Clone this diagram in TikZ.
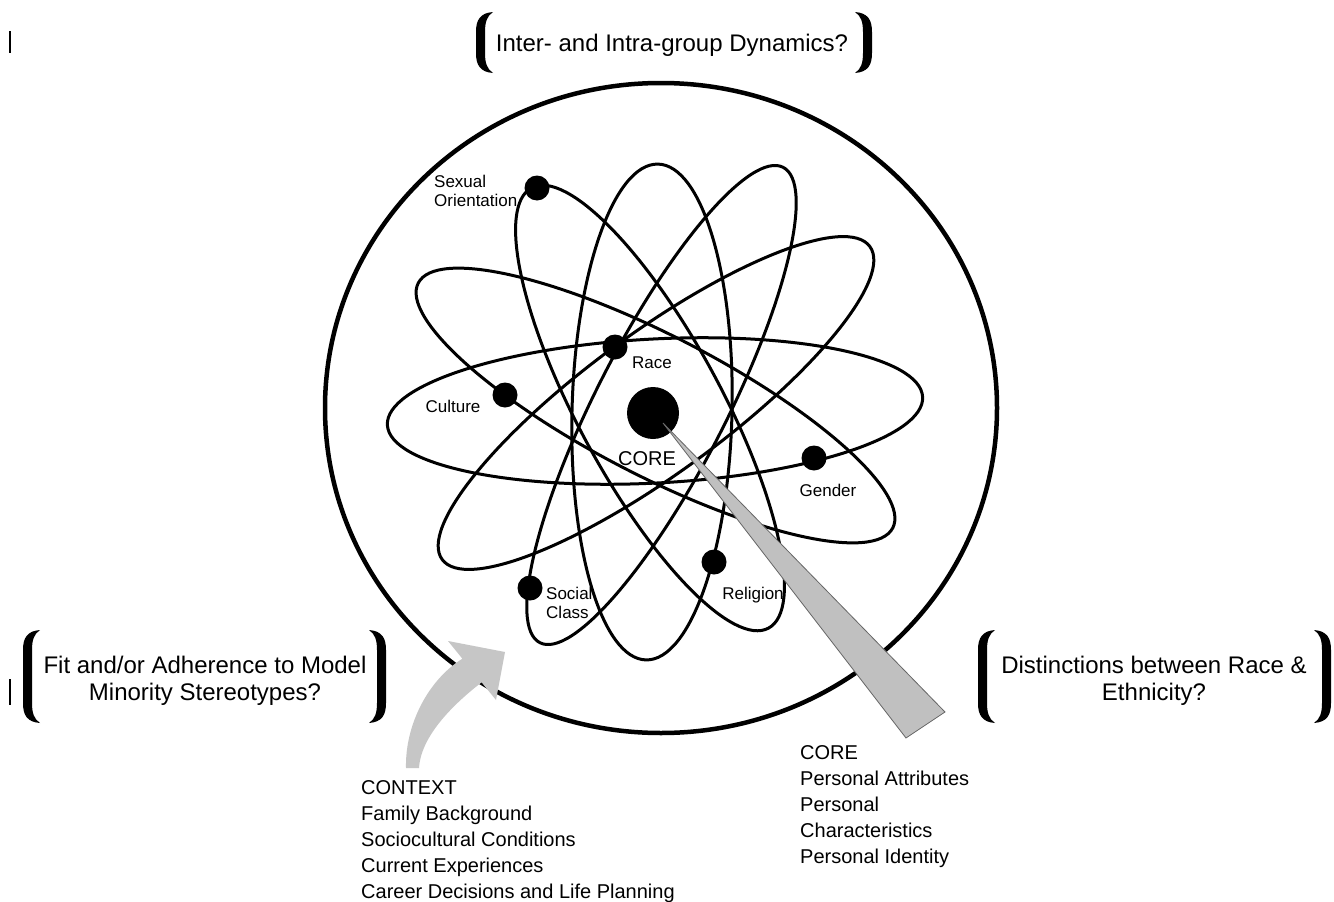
\documentclass[tikz,border=0pt]{standalone}
\usepackage{fontspec}
\setmainfont{Liberation Sans}
\definecolor{wedgegray}{RGB}{192,192,192}
\definecolor{arrowgray}{RGB}{198,198,198}
\tikzset{
  pics/brk/.style={code={
    \fill (17,0) .. controls (4,1) and (0,8) .. (0,20) -- (0,#1-20)
      .. controls (0,#1-8) and (4,#1-1) .. (17,#1)
      .. controls (11,#1-4) and (9,#1-10) .. (9,#1-20) -- (9,20)
      .. controls (9,10) and (11,4) .. (17,0) -- cycle;
  }},
}
\begin{document}
\begin{tikzpicture}[x=1pt,y=-1pt,
  orbit/.style={line width=3pt},
  dotn/.style={circle,fill=black,inner sep=0pt,minimum size=25pt},
  lbl/.style={inner sep=0pt,font=\fontsize{17}{19}\selectfont,anchor=base},
  lblblk/.style={inner sep=0pt,font=\fontsize{17}{19}\selectfont,align=left,anchor=north west},
  qtext/.style={inner sep=0pt,font=\fontsize{24}{27}\selectfont,align=center,anchor=north},
  blk/.style={inner sep=0pt,font=\fontsize{20}{26}\selectfont,align=left,anchor=north west},
]
\useasboundingbox (0,0) rectangle (1334,902);
\fill[white] (0,0) rectangle (1334,902);

% cursor marks
\draw[line width=1.6pt] (10,31) -- (10,53);
\draw[line width=1.6pt] (10,679) -- (10,705);

% outer circle
\draw[line width=4.5pt] (661,408) ellipse [x radius=336, y radius=325];

% orbits
\draw[orbit, rotate around={3:(655,411)}] (655,411) ellipse [x radius=268, y radius=72];
\draw[orbit, rotate around={-27.3:(655.5,405.5)}] (655.5,405.5) ellipse [x radius=267, y radius=70];
\draw[orbit, rotate around={36.2:(656,403)}] (656,403) ellipse [x radius=265, y radius=70];
\draw[orbit, rotate around={-61.7:(650,408)}] (650,408) ellipse [x radius=250, y radius=72];
\draw[orbit, rotate around={62.9:(661.5,405)}] (661.5,405) ellipse [x radius=267, y radius=65];
\draw[orbit, rotate around={88.6:(652,412)}] (652,412) ellipse [x radius=248, y radius=80];

% nucleus and electrons
\node[circle,fill=black,inner sep=0pt,minimum size=52pt] (nucleus) at (653,413) {};
\node[dotn] (dsex) at (537,188) {};
\node[dotn] (drace) at (615,347) {};
\node[dotn] (dcult) at (505,395) {};
\node[dotn] (dgend) at (814,458) {};
\node[dotn] (drel) at (714,562) {};
\node[dotn] (dsoc) at (530,588) {};

% pointer wedge
\filldraw[fill=wedgegray, draw=black!60, line width=0.8pt] (663,423) -- (945,712) -- (906,738) -- cycle;

% curved context arrow
\fill[arrowgray] (505,652) -- (496,700) -- (481.6,682.3)
  .. controls (455,703) and (421,735) .. (419,768) -- (406,768)
  .. controls (405,725) and (428,680) .. (462.4,658.7) -- (448,641) -- cycle;

% atom labels
\node[lblblk] (tsex) at (434,174.5) {Sexual\\Orientation};
\node[lbl] (trace) at (652,368) {Race};
\node[lbl] (tcult) at (453,412) {Culture};
\node[inner sep=0pt,font=\fontsize{20}{24}\selectfont,anchor=base] (tcore) at (647,465) {CORE};
\node[lbl] (tgend) at (828,496) {Gender};
\node[lbl] (trel) at (753,599) {Religion};
\node[lblblk] (tsoc) at (546,586.5) {Social\\Class};

% brackets
\pic at (476,12) {brk=61};
\pic[xscale=-1] at (872,12) {brk=61};
\pic at (23,630) {brk=93};
\pic[xscale=-1] at (386,630) {brk=93};
\pic at (978,630) {brk=93};
\pic[xscale=-1] at (1331,630) {brk=93};

% bracket texts
\node[qtext] (qtop) at (672,33.5) {Inter- and Intra-group Dynamics?};
\node[qtext] (qleft) at (205,656) {Fit and/or Adherence to Model\\Minority Stereotypes?};
\node[qtext] (qright) at (1154,656) {Distinctions between Race \&\\Ethnicity?};

% lower text blocks
\node[blk] (context) at (361,780.8) {CONTEXT\\Family Background\\Sociocultural Conditions\\Current Experiences\\Career Decisions and Life Planning};
\node[blk] (coreblk) at (800,745.8) {CORE\\Personal Attributes\\Personal\\Characteristics\\Personal Identity};
\end{tikzpicture}
\end{document}
